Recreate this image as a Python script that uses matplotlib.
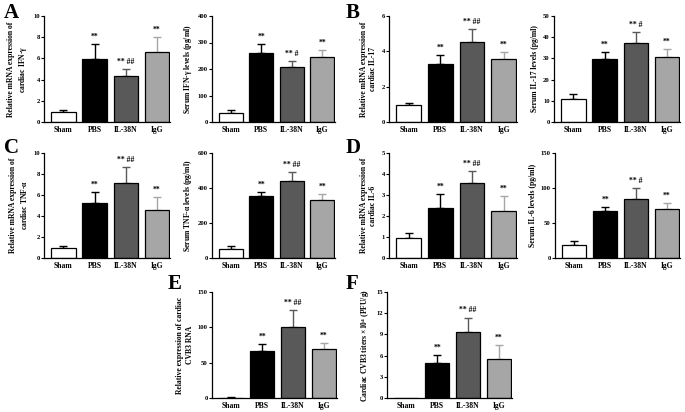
import numpy as np
import matplotlib
matplotlib.use('Agg')
import matplotlib.pyplot as plt

plt.rcParams['font.family'] = ['Liberation Serif', 'DejaVu Serif']
plt.rcParams['font.weight'] = 'bold'
plt.rcParams['mathtext.default'] = 'regular'

groups = ['Sham', 'PBS', 'IL-38N', 'IgG']

# means and upper SD
a1_mean = [0.95, 5.93, 4.32, 6.56]
a1_sd = [0.22, 1.47, 0.66, 1.48]
a2_mean = [35, 261, 208, 245]
a2_sd = [9, 35, 22, 25]
b1_mean = [0.98, 3.26, 4.55, 3.54]
b1_sd = [0.12, 0.51, 0.72, 0.40]
b2_mean = [10.9, 29.5, 37.1, 30.8]
b2_sd = [2.3, 3.3, 5.2, 3.7]
c1_mean = [0.95, 5.24, 7.14, 4.60]
c1_sd = [0.22, 1.05, 1.53, 1.18]
c2_mean = [51, 352, 442, 333]
c2_sd = [16, 23, 49, 33]
d1_mean = [0.93, 2.36, 3.56, 2.24]
d1_sd = [0.25, 0.71, 0.59, 0.72]
d2_mean = [19, 67, 84, 70.5]
d2_sd = [5, 6, 16, 8]
e_mean = [0.5, 66, 101, 70]
e_sd = [0.5, 11, 23, 8]
f_mean = [0.0, 5.0, 9.34, 5.57]
f_sd = [0.0, 1.13, 2.03, 1.93]

marks = ['', '**', '** ##', '**']
marks_single = ['', '**', '** #', '**']

face = ['white', 'black', '#595959', '#a6a6a6']
errc = ['black', 'black', '#595959', '#a6a6a6']

W, H = 685, 412
fig = plt.figure(figsize=(W / 100, H / 100), dpi=100)


def panel(px, py, pw, ph, mean, sd, ylim, step, ylabel, sig):
    ax = fig.add_axes([px / W, 1 - (py + ph) / H, pw / W, ph / H])
    x = np.arange(len(groups))
    ax.bar(x, mean, width=0.78, color=face, edgecolor='black', linewidth=0.9, zorder=2)
    for i in range(len(groups)):
        if sd[i] > 0:
            ax.errorbar(x[i], mean[i], yerr=[[0], [sd[i]]], fmt='none', ecolor=errc[i],
                        elinewidth=1.0, capsize=3, capthick=1.0, zorder=1)
        if sig[i]:
            ax.text(x[i], mean[i] + sd[i] + ylim * 0.03, sig[i], ha='center', va='bottom',
                    fontsize=5.5, fontweight='bold')
    ax.set_xlim(-0.62, 3.42)
    ax.set_ylim(0, ylim)
    ax.set_yticks(np.arange(0, ylim + step / 2, step))
    ax.set_xticks(x)
    ax.set_xticklabels(groups, fontsize=5.5, fontweight='bold')
    ax.tick_params(axis='y', labelsize=4.8, length=2, width=0.8, pad=1)
    ax.tick_params(axis='x', length=0, pad=3)
    for lab in ax.get_yticklabels():
        lab.set_fontweight('bold')
    ax.spines['top'].set_visible(False)
    ax.spines['right'].set_visible(False)
    ax.spines['left'].set_linewidth(0.9)
    ax.spines['bottom'].set_linewidth(0.9)
    ax.set_ylabel(ylabel, fontsize=5.5, fontweight='bold', labelpad=3)
    return ax


panel(44, 16, 126, 106, a1_mean, a1_sd, 10, 2,
      'Relative mRNA expression of\ncardiac IFN-$\\gamma$', marks)
panel(212, 16, 123, 106, a2_mean, a2_sd, 400, 100,
      'Serum IFN-$\\gamma$ levels (pg/ml)', marks_single)
panel(389, 16, 128, 106, b1_mean, b1_sd, 6, 2,
      'Relative mRNA expression of\ncardiac IL-17', marks)
panel(554, 16, 126, 106, b2_mean, b2_sd, 50, 10,
      'Serum IL-17 levels (pg/ml)', marks_single)
panel(44, 153, 126, 105, c1_mean, c1_sd, 10, 2,
      'Relative mRNA expression of\ncardiac TNF-$\\alpha$', marks)
panel(212, 153, 123, 105, c2_mean, c2_sd, 600, 200,
      'Serum TNF-$\\alpha$ levels (pg/ml)', marks)
panel(389, 153, 128, 105, d1_mean, d1_sd, 5, 1,
      'Relative mRNA expression of\ncardiac IL-6', marks)
panel(555, 153, 125, 105, d2_mean, d2_sd, 150, 50,
      'Serum IL-6 levels (pg/ml)', marks_single)
panel(212, 292, 125, 106, e_mean, e_sd, 150, 50,
      'Relative expression of cardiac\nCVB3 RNA', marks)
panel(387, 292, 125, 106, f_mean, f_sd, 15, 3,
      'Cardiac CVB3 titers $\\times$10$^4$ (PFU/g)', marks)

for letter, lx, ly in [('A', 4, 3), ('B', 346, 3), ('C', 4, 138), ('D', 346, 138),
                       ('E', 168, 274), ('F', 346, 274)]:
    fig.text(lx / W, 1 - ly / H, letter, fontsize=15, fontweight='bold', va='top', ha='left')

fig.savefig('out.png', dpi=100)
